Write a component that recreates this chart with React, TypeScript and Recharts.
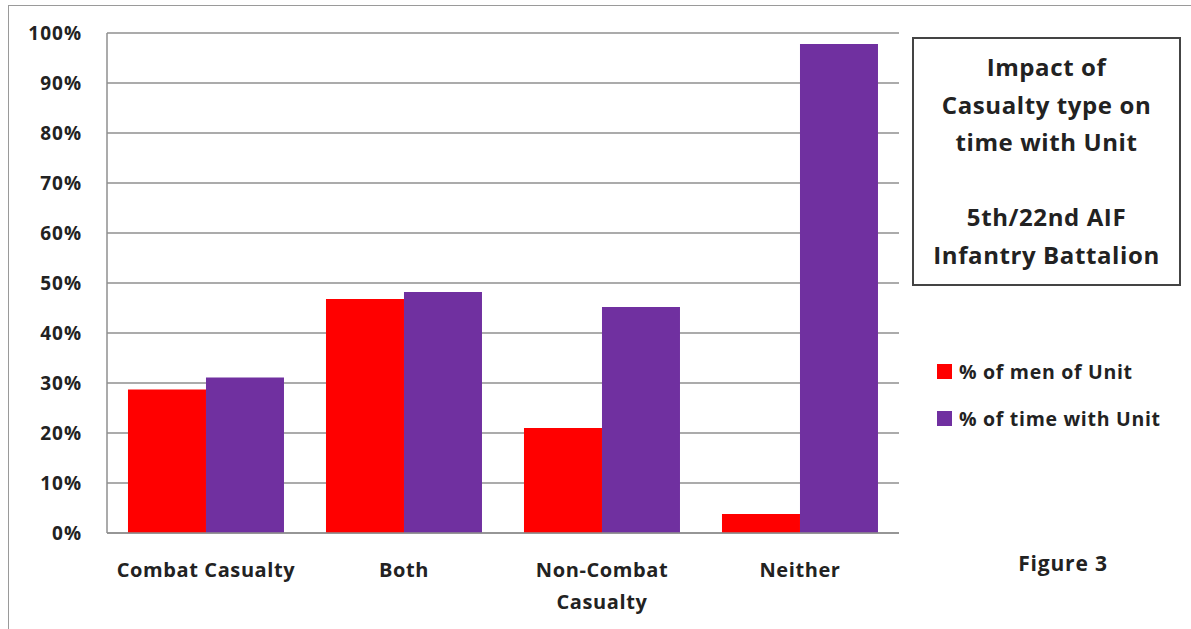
import React from "react";
import { Bar, BarChart, CartesianGrid, XAxis, YAxis } from "recharts";

const categories = ["Combat Casualty", "Both", "Non-Combat Casualty", "Neither"];
const tickLines = [["Combat Casualty"], ["Both"], ["Non-Combat", "Casualty"], ["Neither"]];
const menOfUnit = [28.7, 46.8, 21.0, 3.8];
const timeWithUnit = [31.1, 48.2, 45.2, 97.8];
const yTicks = [0, 10, 20, 30, 40, 50, 60, 70, 80, 90, 100];
const legendItems = [
  { label: "% of men of Unit", color: "#FF0000" },
  { label: "% of time with Unit", color: "#7030A0" },
];

const data = categories.map((name, i) => ({
  name,
  men: menOfUnit[i],
  time: timeWithUnit[i],
}));

const FONT = "'Open Sans', Lato, sans-serif";

const XTick = (props: any) => {
  const { x, y, index } = props;
  const lines = tickLines[index] || [];
  return (
    <g>
      {lines.map((l, i) => (
        <text
          key={i}
          x={x}
          y={y + 36 + i * 32}
          textAnchor="middle"
          fontFamily={FONT}
          fontWeight={700}
          fontSize={20}
          letterSpacing={0.6}
          fill="#222"
        >
          {l}
        </text>
      ))}
    </g>
  );
};

const YTick = (props: any) => {
  const { y, payload } = props;
  return (
    <text
      x={82}
      y={y + 7}
      textAnchor="end"
      fontFamily={FONT}
      fontWeight={700}
      fontSize={19}
      letterSpacing={1}
      fill="#222"
    >
      {payload.value}%
    </text>
  );
};

export default function App() {
  return (
    <div style={{ position: "absolute", left: 0, top: 0, width: 1191, height: 629, background: "#fff", overflow: "hidden" }}>
      <div style={{ position: "absolute", left: 8, top: 5, width: 1200, height: 640, border: "1.5px solid #9a9a9a", boxSizing: "border-box" }} />
      <div style={{ position: "absolute", left: 0, top: 0 }}>
        <BarChart
          width={1191}
          height={629}
          data={data}
          margin={{ top: 33, right: 292, bottom: 26, left: 17 }}
          barCategoryGap="10.6%"
          barGap={0}
        >
          <CartesianGrid vertical={false} stroke="#8f8f8f" strokeWidth={1.5} />
          <XAxis
            dataKey="name"
            height={70}
            tickLine={false}
            axisLine={{ stroke: "#8f8f8f", strokeWidth: 1.5 }}
            tick={<XTick />}
            interval={0}
          />
          <YAxis
            width={90}
            domain={[0, 100]}
            ticks={yTicks}
            tickLine={false}
            axisLine={{ stroke: "#8f8f8f", strokeWidth: 1.5 }}
            tick={<YTick />}
            interval={0}
          />
          <Bar dataKey="men" name="% of men of Unit" fill="#FF0000" isAnimationActive={false} />
          <Bar dataKey="time" name="% of time with Unit" fill="#7030A0" isAnimationActive={false} />
        </BarChart>
      </div>
      <div style={{ position: "absolute", left: 937, top: 348, fontFamily: FONT, fontWeight: 700, fontSize: 19.5, letterSpacing: 0.7, color: "#222" }}>
        {legendItems.map((it) => (
          <div key={it.label} style={{ display: "flex", alignItems: "center", height: 47, whiteSpace: "nowrap" }}>
            <span style={{ width: 15, height: 15, background: it.color, marginRight: 7 }} />
            {it.label}
          </div>
        ))}
      </div>
      <div
        style={{
          position: "absolute",
          left: 912,
          top: 37,
          width: 269,
          height: 249,
          border: "2px solid #444",
          boxSizing: "border-box",
          fontFamily: FONT,
          fontWeight: 700,
          fontSize: 24,
          letterSpacing: 0.6,
          lineHeight: "37.5px",
          color: "#222",
          textAlign: "center",
          paddingTop: 9,
          whiteSpace: "nowrap",
        }}
      >
        <div>Impact of</div>
        <div>Casualty type on</div>
        <div>time with Unit</div>
        <div>&nbsp;</div>
        <div>5th/22nd AIF</div>
        <div>Infantry Battalion</div>
      </div>
      <div
        style={{
          position: "absolute",
          left: 1003,
          top: 549,
          width: 120,
          textAlign: "center",
          fontFamily: FONT,
          fontWeight: 700,
          fontSize: 21,
          letterSpacing: 0.8,
          color: "#222",
        }}
      >
        Figure 3
      </div>
    </div>
  );
}
